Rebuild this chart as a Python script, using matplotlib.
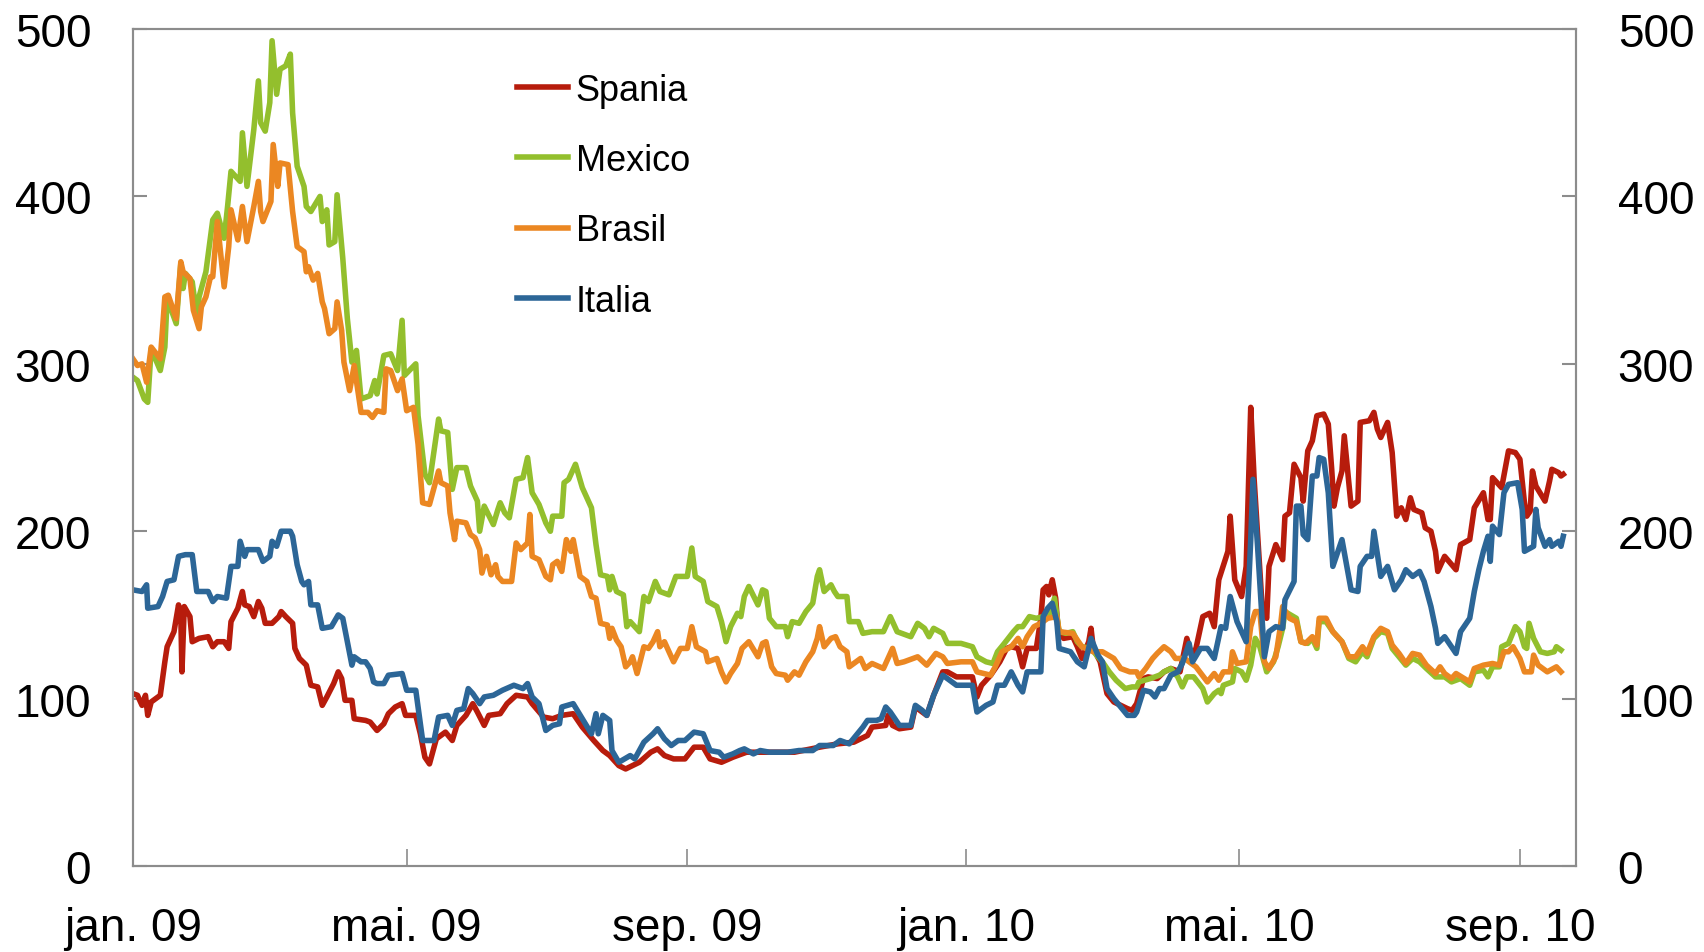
import pandas as pd
import matplotlib
matplotlib.use('Agg')
import matplotlib.pyplot as plt

plt.rcParams['font.family'] = ['Liberation Sans', 'DejaVu Sans']

# dager etter 1. januar 2009, og nivå (basispunkter)
start = pd.Timestamp('2009-01-01')

spania_day = [0, 2, 4, 5.5, 6.5, 8, 12, 14, 15, 16, 18, 20, 21, 21.5, 22.5, 25, 26, 29, 33, 35, 37, 40, 42, 43,
              46, 48, 49, 51, 53, 55, 56.5, 58, 61, 64, 65, 67, 70, 71, 73, 76, 78, 81, 83, 85, 88, 90, 91.5,
              93, 96, 97, 102, 104, 107, 110, 112, 115, 118, 119.5, 124, 126, 128, 130, 133, 137, 140, 142,
              146, 149, 151, 154, 156, 161, 164, 168, 173, 175, 180, 184, 188, 193, 197, 202, 206, 209, 213,
              216, 222, 227, 230, 233, 237, 242, 246, 250, 253, 258, 263, 269, 280, 290, 301, 309, 316, 322,
              324, 330, 331, 333, 336, 341, 343, 346, 348, 351, 355, 357, 361, 368, 370, 372, 376, 380, 383,
              385, 388, 390, 392, 396, 398, 399, 400.5, 401.5, 403, 404.5, 405.5, 408, 412, 414, 416, 419,
              420, 421, 424, 427, 430, 433, 436, 438, 440, 443, 445, 449, 452, 455, 459, 462, 464, 466, 469,
              472, 474, 476, 480, 481, 483, 486, 488, 490, 491.5, 495, 497, 498, 501, 504, 505, 507, 509,
              512, 513, 515, 517, 519, 522, 524, 525.5, 526.5, 528, 530, 531, 534, 537, 538, 542, 544,
              545.5, 547, 550, 552, 554, 556, 558, 560, 561.5, 565, 566.5, 569, 571, 572, 575, 580, 582,
              586, 588, 592, 594, 595, 596, 598, 600, 603, 606, 608, 610, 611, 612.5, 613.5, 615, 619, 621,
              622, 625, 626, 627]
spania_val = [103, 102, 96, 102, 90, 98, 102, 122, 131, 134, 140, 156, 149, 116, 155, 149, 134, 136, 137, 131,
              134, 134, 130, 146, 154, 164, 156, 155, 149, 158, 154, 145, 145, 149, 152, 149, 145, 130, 124,
              120, 108, 107, 96, 101, 109, 116, 112, 99, 99, 88, 87, 86, 81, 85, 91, 95, 97, 90, 90, 79, 65,
              61, 76, 80, 75, 84, 90, 97, 92, 84, 90, 91, 97, 102, 101, 97, 89, 88, 90, 91, 83, 75, 69, 66,
              60, 58, 62, 68, 70, 66, 64, 64, 71, 71, 64, 62, 65, 68, 68, 68, 71, 73, 74, 78, 83, 84, 90, 84,
              82, 83, 95, 92, 90, 102, 116, 116, 113, 113, 101, 108, 114, 122, 130, 131, 130, 119, 130, 130,
              148, 165, 167, 162, 171, 160, 142, 136, 137, 131, 124, 134, 142, 130, 122, 103, 98, 96, 94, 93,
              97, 112, 113, 112, 116, 118, 116, 136, 126, 130, 149, 151, 143, 171, 188, 209, 171, 161, 179,
              274, 231, 155, 148, 179, 192, 183, 209, 211, 240, 232, 218, 248, 254, 269, 270, 264, 237, 215,
              226, 236, 257, 215, 218, 265, 266, 271, 261, 256, 265, 247, 209, 214, 207, 220, 213, 211, 202,
              200, 188, 176, 185, 177, 192, 195, 214, 223, 207, 207, 232, 229, 226, 248, 247, 243, 217, 209,
              212, 236, 227, 218, 230, 237, 235, 233, 234]

mexico_day = [0, 2, 5, 6.5, 8, 12, 14, 15, 19, 21, 22, 23, 26, 28, 29, 32, 35, 37, 40, 41.5, 43, 47, 48, 50,
              53, 55, 56, 58, 60, 61, 63, 64.5, 67, 69, 70, 72, 75, 76, 78, 82, 83, 85, 86, 88.5, 89.5, 92, 94,
              96, 98, 100, 102, 104, 106, 107, 110, 113, 116, 118, 119, 124, 125, 128, 130, 134, 135, 138,
              139, 140, 142, 146, 148, 151, 152, 154, 158, 160, 161, 163, 165, 168, 171, 173, 175, 178, 181,
              183, 184, 188, 189, 191, 194, 197, 201, 203, 205, 208, 209, 210, 212, 215, 216.5, 218, 222, 224,
              226, 229, 231, 235, 238, 243, 245, 246.5, 250, 252, 256, 258, 260, 262, 265, 266.5, 268, 270,
              274, 276, 277.5, 279, 282, 286, 287, 289, 292, 295, 298, 300, 301, 303, 306, 307.5, 309, 313,
              314, 318, 320, 324, 329, 332, 335, 341, 344, 347, 349, 351, 355, 357, 363, 368, 370, 374, 377,
              379, 382, 386, 388, 390, 393, 396, 399, 402, 404, 406, 409, 412, 414, 416, 420, 423, 425, 428,
              431, 435, 438, 440, 441, 446, 450, 452, 455, 458, 460, 462, 465, 469, 471, 474, 476, 477, 478,
              482, 483, 486, 488, 490, 492, 494, 497, 500, 502, 504, 505, 510, 512, 515, 517, 519, 520, 523,
              526, 530, 533, 536, 539, 541, 544, 547, 550, 552, 555, 558, 561, 564, 567, 571, 575, 578, 582,
              586, 588, 592, 594, 596, 599, 600, 603, 606, 608, 610, 611, 612, 614, 617, 620, 623, 624, 626]
mexico_val = [292, 290, 279, 277, 309, 296, 310, 339, 324, 360, 345, 354, 349, 328, 340, 355, 386, 390, 375,
              394, 415, 409, 438, 406, 440, 469, 444, 439, 456, 493, 461, 476, 478, 485, 450, 418, 406, 394,
              391, 400, 385, 392, 371, 373, 401, 363, 327, 301, 308, 279, 280, 281, 290, 282, 305, 306, 296,
              326, 293, 300, 269, 234, 229, 267, 260, 259, 242, 225, 238, 238, 227, 218, 200, 215, 204, 213,
              217, 211, 208, 231, 232, 244, 223, 216, 205, 200, 209, 209, 229, 231, 240, 226, 214, 192, 174,
              173, 165, 173, 164, 162, 143, 146, 140, 161, 158, 170, 164, 162, 173, 173, 190, 173, 170, 158,
              155, 146, 134, 143, 151, 149, 161, 167, 156, 165, 164, 148, 143, 143, 137, 146, 145, 152, 157,
              173, 177, 164, 168, 164, 161, 161, 146, 146, 139, 140, 140, 149, 140, 137, 145, 142, 137, 142,
              139, 133, 133, 131, 125, 122, 121, 128, 133, 140, 143, 143, 149, 148, 149, 151, 160, 140, 139,
              140, 134, 131, 130, 125, 122, 116, 111, 106, 107, 107, 110, 112, 114, 116, 118, 113, 107, 113,
              113, 106, 98, 103, 105, 103, 108, 110, 118, 116, 111, 120, 136, 131, 116, 122, 131, 142, 152,
              148, 134, 133, 136, 130, 146, 146, 140, 134, 124, 122, 128, 125, 136, 140, 139, 130, 125, 120,
              124, 122, 118, 113, 113, 110, 112, 108, 116, 117, 113, 119, 119, 131, 133, 143, 140, 131, 130,
              145, 136, 128, 127, 128, 131, 129]

brasil_day = [0, 2, 4, 6, 8, 12, 13, 14, 15.5, 19, 21, 22, 25, 26.5, 29, 30, 32, 34, 35, 37, 40, 42, 43, 46,
              48, 50, 53, 55, 56, 57, 60.5, 61.5, 63.5, 64.5, 68, 70, 72, 75, 76, 77, 79, 81, 83, 84, 86, 88.5,
              89.5, 91.5, 92.5, 95, 97, 100, 103, 105, 107, 110, 111, 113, 116, 118, 120, 123, 125, 127, 130,
              134, 135, 138, 139, 141, 142, 146, 148, 150, 152, 153, 155, 157, 159, 160, 162, 166, 168, 170,
              173, 174, 175, 178, 181, 183, 184, 186, 188, 190, 192, 193, 196, 199, 201, 203, 205, 208, 209,
              210, 212, 214, 216, 218, 219, 221, 224, 226, 228, 230, 231, 233, 237, 240, 243, 245, 247, 251,
              252, 256, 258, 260, 262, 265, 267, 270, 274, 276, 277.5, 280, 282, 286, 287, 290, 292, 295, 298,
              300, 301, 303, 306, 308, 310, 313, 314, 319, 321, 324, 329, 333, 335, 338, 344, 348, 352, 355,
              357, 363, 368, 370, 376, 378, 381, 385, 388, 390, 392, 395, 398, 401, 405, 406, 412, 416, 421,
              425, 430, 433, 437, 440, 441, 444, 447, 449, 452, 455, 457, 461, 466, 471, 474, 476, 478, 481,
              482, 484, 488, 490, 492, 494, 496, 498, 501, 503, 504, 507, 510, 512, 514, 517, 519, 520, 523,
              526, 530, 533, 536, 539, 541, 544, 547, 550, 552, 555, 558, 561, 564, 567, 571, 573, 575, 578,
              580, 586, 588, 592, 596, 599, 601, 603, 605, 608, 610, 613, 614, 616, 620, 624, 626]
brasil_val = [303, 299, 300, 289, 310, 303, 321, 340, 341, 327, 361, 355, 351, 332, 321, 334, 340, 352, 352,
              385, 346, 370, 392, 374, 394, 373, 394, 409, 391, 385, 397, 431, 406, 420, 419, 391, 370, 367,
              355, 358, 350, 354, 337, 333, 318, 321, 337, 320, 301, 284, 299, 271, 271, 268, 272, 271, 297,
              296, 284, 291, 272, 274, 252, 217, 216, 236, 229, 227, 211, 195, 206, 205, 198, 196, 189, 175,
              185, 174, 180, 173, 170, 170, 193, 189, 193, 210, 185, 183, 173, 171, 180, 182, 176, 195, 188,
              195, 173, 170, 161, 160, 145, 144, 136, 142, 135, 131, 119, 122, 125, 115, 131, 130, 134, 140,
              131, 134, 122, 130, 130, 143, 131, 128, 122, 124, 116, 110, 115, 121, 130, 134, 125, 133, 134,
              119, 115, 114, 111, 116, 114, 122, 128, 136, 143, 131, 136, 137, 131, 128, 119, 124, 118, 121,
              118, 130, 121, 122, 125, 120, 127, 125, 121, 122, 122, 116, 114, 119, 128, 131, 136, 131, 137,
              143, 145, 148, 149, 140, 139, 131, 128, 128, 124, 118, 116, 116, 113, 118, 124, 127, 131, 128,
              124, 124, 119, 110, 115, 111, 116, 116, 128, 121, 122, 143, 152, 152, 122, 118, 125, 143, 155,
              148, 146, 134, 133, 137, 132, 148, 148, 140, 134, 125, 125, 131, 127, 137, 142, 140, 132, 127,
              121, 127, 126, 120, 115, 119, 115, 112, 115, 110, 118, 120, 121, 120, 128, 128, 131, 124, 116,
              116, 126, 120, 116, 119, 116]

italia_day = [0, 4, 6, 6.5, 11, 13, 15, 18, 20, 23, 26, 28, 33, 35, 37, 41, 43, 46, 47, 49, 50, 55, 57, 60,
              61, 63, 65, 69, 70, 72, 74, 75, 77, 78, 81, 83, 87, 90, 92, 94, 96, 97, 100, 102, 104, 105.5,
              107, 110, 112, 118, 120, 124, 127, 132, 134, 138, 140, 142, 145, 147, 149, 152, 154, 158, 162,
              167, 171, 173, 175, 178, 181, 184, 187, 188, 193, 197, 201, 203, 204, 206, 209, 210, 213, 218,
              220, 224, 228, 230, 233, 236, 239, 242, 246, 250, 253, 257, 259, 263, 266, 268, 272, 275, 279,
              287, 292, 298, 301, 307, 310, 314, 317, 320, 322, 326, 328, 330, 332, 334, 336, 341, 343, 346,
              348, 351, 355, 357, 361, 368, 370, 374, 377, 379, 382, 385, 388, 390, 392, 395, 398, 399, 401,
              403, 405, 406, 411, 412, 414, 417, 420, 423, 425, 427, 430, 433, 436, 439, 440, 443, 446, 448,
              450, 452, 455, 458, 460, 463, 464.5, 468, 471, 474, 477, 479, 481, 484, 488, 490, 491, 493, 496,
              498, 501, 504, 505, 509, 510, 512, 513, 515, 517, 519, 520, 522, 524, 526, 530, 534, 537, 538,
              541, 543, 544, 547, 550, 553, 556, 558, 561, 564, 566, 569, 571, 572, 575, 580, 582, 586, 588,
              590, 592, 594, 595, 596, 599, 601, 603, 607, 609, 610, 614, 615, 616, 619, 621, 622, 625, 626,
              627]
italia_val = [165, 164, 168, 154, 155, 161, 170, 171, 185, 186, 186, 164, 164, 158, 161, 160, 179, 179, 194,
              185, 189, 189, 182, 185, 194, 191, 200, 200, 197, 180, 170, 168, 170, 156, 156, 142, 143, 150,
              148, 134, 120, 125, 122, 122, 118, 110, 109, 109, 114, 115, 105, 105, 75, 75, 89, 90, 84, 93,
              94, 106, 103, 97, 101, 102, 105, 108, 106, 109, 101, 97, 81, 84, 85, 95, 97, 88, 79, 91, 79, 90,
              87, 69, 62, 66, 64, 74, 79, 82, 76, 72, 75, 75, 80, 79, 69, 68, 65, 67, 69, 70, 67, 69, 68, 68,
              69, 69, 72, 72, 75, 73, 78, 83, 87, 87, 88, 95, 92, 88, 84, 84, 96, 93, 90, 102, 114, 112, 108,
              108, 92, 96, 98, 108, 108, 116, 108, 104, 116, 116, 116, 149, 154, 157, 146, 130, 128, 126, 122,
              119, 136, 126, 122, 106, 100, 95, 90, 90, 92, 105, 104, 101, 106, 106, 114, 116, 121, 133, 122,
              130, 130, 124, 143, 142, 161, 146, 134, 195, 231, 191, 125, 140, 143, 142, 159, 170, 215, 215,
              198, 195, 233, 233, 244, 243, 223, 179, 195, 165, 164, 179, 185, 185, 200, 173, 179, 165, 171,
              177, 173, 176, 170, 155, 142, 133, 137, 127, 140, 148, 164, 177, 188, 197, 182, 203, 198, 223,
              228, 229, 213, 188, 191, 213, 202, 191, 195, 191, 194, 191, 197]

series_names = ['Spania', 'Mexico', 'Brasil', 'Italia']
series_colors = ['#B71C0C', '#93BF2D', '#EB8722', '#2C6697']

tick_dates = ['2009-01-01', '2009-05-01', '2009-09-01', '2010-01-01', '2010-05-01', '2010-09-01']
tick_labels = ['jan. 09', 'mai. 09', 'sep. 09', 'jan. 10', 'mai. 10', 'sep. 10']

grey = '#8C8C8C'

fig = plt.figure(figsize=(17.04, 9.53), dpi=100)
ax = fig.add_axes([0.078, 0.0902, 0.8469, 0.8783])
ax2 = ax.twinx()

all_days = [spania_day, mexico_day, brasil_day, italia_day]
all_vals = [spania_val, mexico_val, brasil_val, italia_val]
for days, vals, name, col in zip(all_days, all_vals, series_names, series_colors):
    x = start + pd.to_timedelta(days, unit='D')
    ax.plot(x, vals, color=col, lw=4, label=name, solid_joinstyle='round')

ax.set_xlim(start, start + pd.Timedelta(days=632.6))
for a in (ax, ax2):
    a.set_ylim(0, 500)
    a.set_yticks(range(0, 501, 100))
    for s in a.spines.values():
        s.set_color(grey)
        s.set_linewidth(1.5)

ax.set_xticks(pd.to_datetime(tick_dates))
ax.set_xticklabels(tick_labels)
ax.tick_params(axis='x', direction='in', length=12, width=1.2, color=grey, pad=29, labelsize=33)
ax.tick_params(axis='y', direction='in', length=10, width=1.5, color=grey, pad=30, labelsize=33)
ax2.tick_params(axis='y', direction='in', length=10, width=1.5, color=grey, pad=30, labelsize=33)

ax.legend(loc='upper left', bbox_to_anchor=(0.266, 0.948), frameon=False, fontsize=26,
          handlelength=1.43, handletextpad=0.2, labelspacing=0.98, borderpad=0, borderaxespad=0)

fig.savefig('out.png', dpi=100)
